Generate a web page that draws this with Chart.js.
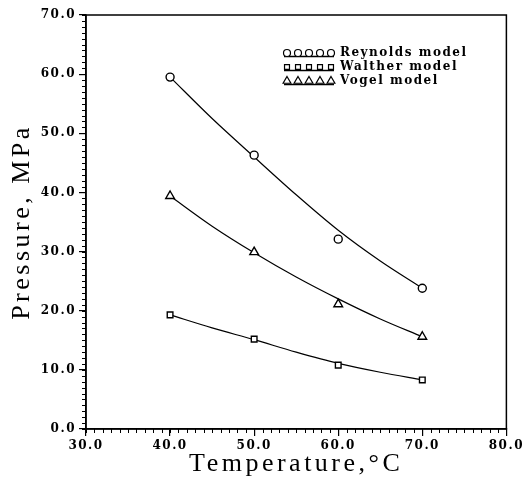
<!DOCTYPE html>
<html><head><meta charset="utf-8">
<script src="https://cdn.jsdelivr.net/npm/chart.js@4"></script>
<style>html,body{margin:0;padding:0;background:#fff}#wrap{width:524px;height:481px}</style>
</head><body><div id="wrap"><canvas id="c" width="524" height="481"></canvas></div>
<script>
// measured points
const temperatures = [40, 50, 60, 70];
const reynolds = [59.5, 46.3, 32.1, 23.8];
const walther = [19.3, 15.2, 10.8, 8.3];
const vogel = [39.4, 29.9, 21.1, 15.6];
// fitted curves
const fitTemperatures = [40, 45, 50, 55, 60, 65, 70];
const reynoldsFit = [59.5, 52.5, 46.0, 39.6, 33.6, 28.4, 23.8];
const waltherFit = [19.3, 17.1, 15.1, 13.0, 11.1, 9.6, 8.3];
const vogelFit = [39.4, 34.3, 29.8, 25.7, 22.0, 18.6, 15.6];
// axes
const xTicks = [30, 40, 50, 60, 70, 80];
const yTicks = [0, 10, 20, 30, 40, 50, 60, 70];
const seriesNames = ['Reynolds model', 'Walther model', 'Vogel model'];
const seriesStyles = ['circle', 'rect', 'triangle'];
const xTitle = 'Temperature,\u00B0C';
const yTitle = 'Pressure, MPa';

const pts = (xs, ys) => xs.map((x, i) => ({x: x, y: ys[i]}));

function curve(data) {
  return {type: 'line', data: data, borderColor: '#000', borderWidth: 1.2, pointRadius: 0,
    fill: false, cubicInterpolationMode: 'monotone', order: 2};
}
function marks(label, data, style) {
  return {type: 'scatter', label: label, data: data, pointStyle: style,
    pointRadius: style === 'triangle' ? 5 : 4, borderColor: '#000', backgroundColor: '#fff',
    pointBorderWidth: 1.4, showLine: false, order: 1};
}

const tickFont = {family: 'DejaVu Serif', size: 12, weight: 'bold'};
const titleFont = {family: 'Liberation Serif', size: 26, weight: 'normal'};

const decor = {
  id: 'decor',
  beforeDraw(chart) {
    Object.values(chart.scales).forEach(s => {
      if (s._patched) return;
      s._patched = true;
      const dl = s.drawLabels.bind(s), dt = s.drawTitle.bind(s);
      s.drawLabels = function(a) { const c = chart.ctx; c.save(); c.letterSpacing = '1.5px'; dl(a); c.restore(); };
      s.drawTitle = function(a) { const c = chart.ctx; c.save(); c.letterSpacing = '3.5px'; dt(a); c.restore(); };
    });
  },
  afterDraw(chart) {
    const c = chart.ctx, a = chart.chartArea, xs = chart.scales.x, ys = chart.scales.y;
    c.save();
    c.strokeStyle = '#000';
    c.lineWidth = 1.5;
    c.strokeRect(a.left, a.top, a.right - a.left, a.bottom - a.top);
    c.lineWidth = 1;
    c.beginPath();
    for (let v = xs.min; v <= xs.max + 1e-9; v += 1) {
      const px = Math.round(xs.getPixelForValue(v)) + 0.5;
      c.moveTo(px, a.bottom); c.lineTo(px, a.bottom + 4);
    }
    for (let v = ys.min; v <= ys.max + 1e-9; v += 1) {
      const py = Math.round(ys.getPixelForValue(v)) + 0.5;
      c.moveTo(a.left, py); c.lineTo(a.left - 4, py);
    }
    c.stroke();
    // legend
    const rowY = [53, 67, 81];
    const x0 = 287, step = 11;
    c.font = 'bold 12px "DejaVu Serif"';
    c.letterSpacing = '1.5px';
    c.textBaseline = 'middle';
    seriesNames.forEach((name, i) => {
      const y = rowY[i];
      c.strokeStyle = '#000';
      c.lineWidth = 1.5;
      c.beginPath();
      c.moveTo(x0 - 3, y + 3.5); c.lineTo(x0 + step * 4 + 3, y + 3.5);
      c.stroke();
      for (let k = 0; k < 5; k++) {
        c.fillStyle = '#fff'; c.strokeStyle = '#000'; c.lineWidth = 1.2;
        Chart.helpers.drawPoint(c, {pointStyle: seriesStyles[i], radius: seriesStyles[i] === 'triangle' ? 4.5 : 3.5,
          borderWidth: 1.2}, x0 + k * step, y);
      }
      c.fillStyle = '#000';
      c.fillText(name, x0 + step * 4 + 9, y);
    });
    c.restore();
  }
};

new Chart(document.getElementById('c'), {
  data: {
    datasets: [
      curve(pts(fitTemperatures, reynoldsFit)),
      curve(pts(fitTemperatures, waltherFit)),
      curve(pts(fitTemperatures, vogelFit)),
      marks(seriesNames[0], pts(temperatures, reynolds), 'circle'),
      marks(seriesNames[1], pts(temperatures, walther), 'rect'),
      marks(seriesNames[2], pts(temperatures, vogel), 'triangle')
    ]
  },
  options: {
    responsive: false,
    animation: false,
    layout: {padding: {left: 0, right: 13, top: 15, bottom: 0}},
    plugins: {legend: {display: false}, tooltip: {enabled: false}},
    scales: {
      x: {
        type: 'linear', min: 30, max: 80,
        afterBuildTicks: s => { s.ticks = xTicks.map(v => ({value: v})); },
        afterFit: s => { s.height = 52; },
        grid: {drawOnChartArea: false, drawTicks: true, tickLength: 7, color: '#000', lineWidth: 1.2},
        border: {display: true, color: '#000', width: 1.5},
        ticks: {color: '#000', font: tickFont, padding: 3, maxRotation: 0, callback: v => v.toFixed(1)},
        title: {display: true, text: xTitle, color: '#000', font: titleFont, padding: {top: 0, bottom: 1}}
      },
      y: {
        type: 'linear', min: 0, max: 70,
        afterBuildTicks: s => { s.ticks = yTicks.map(v => ({value: v})); },
        afterFit: s => { s.width = 86; },
        grid: {drawOnChartArea: false, drawTicks: true, tickLength: 7, color: '#000', lineWidth: 1.2},
        border: {display: true, color: '#000', width: 1.5},
        ticks: {color: '#000', font: tickFont, padding: 3, callback: v => v.toFixed(1)},
        title: {display: true, text: yTitle, color: '#000', font: titleFont, padding: {top: 7, bottom: 0}}
      }
    }
  },
  plugins: [decor]
});
</script>
</body></html>
